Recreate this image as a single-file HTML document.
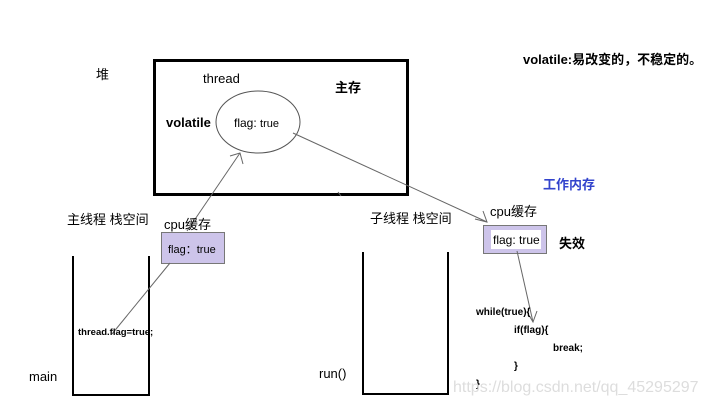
<!DOCTYPE html>
<html><head><meta charset="utf-8"><style>
body{margin:0;background:#fff;width:706px;height:409px;overflow:hidden;position:relative;font-family:"Liberation Sans","Noto Sans CJK SC",sans-serif;}
.t{position:absolute;white-space:nowrap;color:#000}
</style></head><body>
<svg width="706" height="409" style="position:absolute;left:0;top:0">
<rect x="154.5" y="60.5" width="253" height="134" fill="none" stroke="#000" stroke-width="3"/>
<ellipse cx="258" cy="122" rx="42" ry="31" fill="none" stroke="#555" stroke-width="1"/>
<rect x="161.5" y="232.5" width="63" height="31" fill="#cdc4ea" stroke="#777"/>
<rect x="483.5" y="225.5" width="63" height="28" fill="#cdc4ea" stroke="#777"/>
<rect x="491" y="230" width="50" height="19" fill="#fff"/>
<polyline points="73,256 73,395 149,395 149,256" fill="none" stroke="#000" stroke-width="2"/>
<polyline points="363,252 363,394 448,394 448,252" fill="none" stroke="#000" stroke-width="2"/>
<g stroke="#666" stroke-width="1" fill="none">
<line x1="112" y1="334" x2="170" y2="263"/>
<line x1="187" y1="231" x2="240" y2="153"/>
<polyline points="230,156 240,153 243,164"/>
<line x1="293" y1="133" x2="487" y2="222"/>
<polyline points="475,219 487,222 483,211"/>
<line x1="517" y1="251" x2="533" y2="322"/>
<polyline points="527,312 533,322 537,311"/>
<line x1="338" y1="192" x2="341" y2="196"/>
</g>
</svg>
<div class="t" style="left:96px;top:64px;font-size:13px">堆</div>
<div class="t" style="left:203px;top:71px;font-size:13px">thread</div>
<div class="t" style="left:335px;top:77px;font-size:13px;font-weight:bold">主存</div>
<div class="t" style="left:166px;top:115px;font-size:13px;font-weight:bold">volatile</div>
<div class="t" style="left:234px;top:116px;font-size:12px">flag: <span style="font-size:11px">true</span></div>
<div class="t" style="left:523px;top:49px;font-size:13px;font-weight:bold">volatile:易改变的，不稳定的。</div>
<div class="t" style="left:543px;top:174px;font-size:13px;font-weight:bold;color:#3344cc">工作内存</div>
<div class="t" style="left:67px;top:209px;font-size:13px">主线程 栈空间</div>
<div class="t" style="left:164px;top:214px;font-size:13px">cpu缓存</div>
<div class="t" style="left:168px;top:241px;font-size:11px">flag：true</div>
<div class="t" style="left:370px;top:208px;font-size:13px">子线程 栈空间</div>
<div class="t" style="left:490px;top:201px;font-size:13px">cpu缓存</div>
<div class="t" style="left:493px;top:233px;font-size:12px">flag: true</div>
<div class="t" style="left:559px;top:233px;font-size:13px;font-weight:bold">失效</div>
<div class="t" style="left:78px;top:327px;font-size:9.5px;font-weight:bold">thread.flag=true;</div>
<div class="t" style="left:29px;top:369px;font-size:13px">main</div>
<div class="t" style="left:319px;top:366px;font-size:13px">run()</div>
<div class="t" style="left:476px;top:307px;font-size:10px;font-weight:bold">while(true){</div>
<div class="t" style="left:514px;top:325px;font-size:10px;font-weight:bold">if(flag){</div>
<div class="t" style="left:553px;top:343px;font-size:10px;font-weight:bold">break;</div>
<div class="t" style="left:514px;top:361px;font-size:10px;font-weight:bold">}</div>
<div class="t" style="left:476px;top:379px;font-size:10px;font-weight:bold">}</div>
<div class="t" style="left:453px;top:379px;font-size:16px;color:#ddd">https://blog.csdn.net/qq_45295297</div>
</body></html>
